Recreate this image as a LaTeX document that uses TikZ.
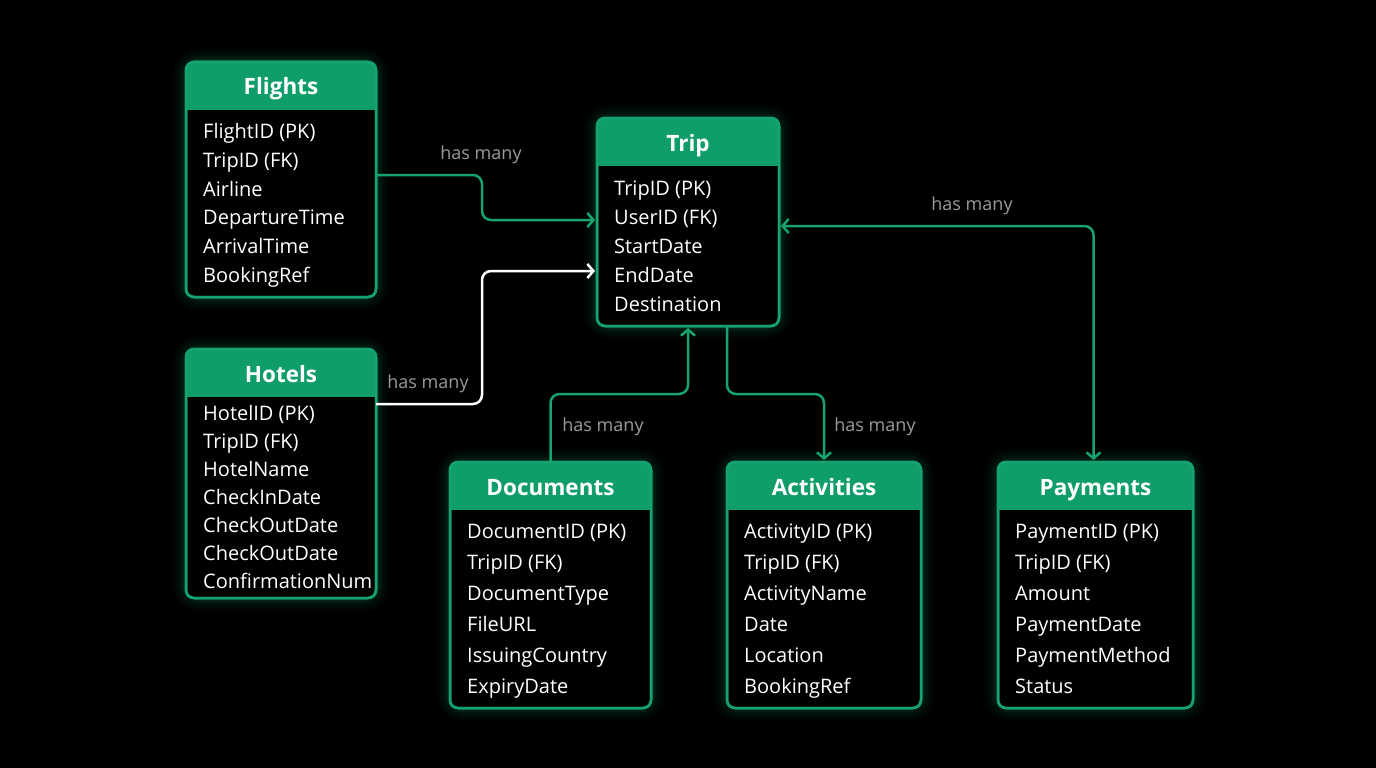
\documentclass[tikz,border=0pt]{standalone}
\usepackage{fontspec}
\setmainfont{Open Sans}
\usetikzlibrary{arrows.meta,calc}
\definecolor{grn}{HTML}{17A36F}
\definecolor{hdr}{HTML}{0F9D6A}
\definecolor{lbl}{HTML}{9B9B9B}
\newcommand\rowfont{\fontsize{20}{24}\selectfont}
\newcommand\hdrfont{\fontsize{22.5}{26}\selectfont\bfseries}
\newcommand\lblfont{\fontsize{18}{22}\selectfont}
\tikzset{
  tbox/.style={draw=grn, line width=2.5pt, rounded corners=8pt, inner sep=0pt, anchor=north west, outer sep=0pt},
  rowtxt/.style={text=white, font=\rowfont, anchor=base west, inner sep=0pt},
  hdrtxt/.style={text=white, font=\hdrfont, anchor=base, inner sep=0pt},
  rel/.style={text=lbl, font=\lblfont, inner sep=0pt},
  barb/.tip={Straight Barb[length=6pt,width=14pt]},
  conn/.style={draw=grn, line width=2.5pt, rounded corners=9pt, -barb},
  wconn/.style={conn, draw=white},
}
% name, x, y, w, h, title, first row offset, row spacing, rows
\newcommand\ertab[9]{%
  \foreach \g/\o in {26/0.03,20/0.04,14/0.05,9/0.07,5/0.1}{
    \draw[grn, line width=\g pt, opacity=\o, rounded corners=12pt] (#2,#3) rectangle ++(#4,#5);
  }
  \node[tbox, minimum width=#4pt, minimum height=#5pt, fill=black] (#1) at (#2,#3) {};
  \begin{scope}
    \clip[rounded corners=8pt] (#1.north west) rectangle (#1.south east);
    \fill[hdr] (#1.north west) rectangle ($(#1.north east)+(0,48)$);
  \end{scope}
  \draw[grn, line width=2.5pt, rounded corners=8pt] (#1.north west) rectangle (#1.south east);
  \node[hdrtxt] (#1-title) at ($(#1.north)+(0,33)$) {#6};
  \foreach \rowtext [count=\i] in {#9}{
    \node[rowtxt] (#1-r\i) at ($(#1.north west)+(17,#7+7.5+\i*#8-#8)$) {\rowtext};
  }
}
\begin{document}
\begin{tikzpicture}[x=1pt,y=-1pt]
\fill[black] (0,0) rectangle (1376,768);
\useasboundingbox (0,0) rectangle (1376,768);

\ertab{flights}{186}{62}{190}{235}{Flights}{69}{28.8}{{FlightID (PK)},{TripID (FK)},{Airline},{DepartureTime},{ArrivalTime},{BookingRef}}
\ertab{trip}{597}{118}{182}{208}{Trip}{70}{29}{{TripID (PK)},{UserID (FK)},{StartDate},{EndDate},{Destination}}
\ertab{hotels}{186}{349}{190}{249}{Hotels}{64}{28}{{HotelID (PK)},{TripID (FK)},{HotelName},{CheckInDate},{CheckOutDate},{CheckOutDate},{ConfirmationNum}}
\ertab{documents}{450}{462}{201}{246}{Documents}{69}{31}{{DocumentID (PK)},{TripID (FK)},{DocumentType},{FileURL},{IssuingCountry},{ExpiryDate}}
\ertab{activities}{727}{462}{194}{246}{Activities}{69}{31}{{ActivityID (PK)},{TripID (FK)},{ActivityName},{Date},{Location},{BookingRef}}
\ertab{payments}{998}{462}{195}{246}{Payments}{69}{31}{{PaymentID (PK)},{TripID (FK)},{Amount},{PaymentDate},{PaymentMethod},{Status}}

% connectors
\draw[conn] ($(flights.north east)+(0,113)$) -| ($(trip.north west)+(-115,102)$) -- ($(trip.north west)+(-2,102)$);
\draw[wconn] ($(hotels.north east)+(0,55)$) -| ($(trip.north west)+(-115,153)$) -- ($(trip.north west)+(-2,153)$);
\draw[conn] (documents.north) |- ($(trip.south)+(0,68)$) -- ($(trip.south)+(0,2)$);
\draw[conn] ($(trip.south)+(39,0)$) |- ($(activities.north)+(0,-68)$) -- ($(activities.north)+(0,-2)$);
\draw[conn, barb-barb] ($(trip.north east)+(2,108)$) -| ($(payments.north)+(-2,-2)$);

% labels
\node[rel] (l1) at (481,155) {has many};
\node[rel] (l2) at (428,384) {has many};
\node[rel] (l3) at (603,427) {has many};
\node[rel] (l4) at (875,427) {has many};
\node[rel] (l5) at (972,206) {has many};
\end{tikzpicture}
\end{document}
